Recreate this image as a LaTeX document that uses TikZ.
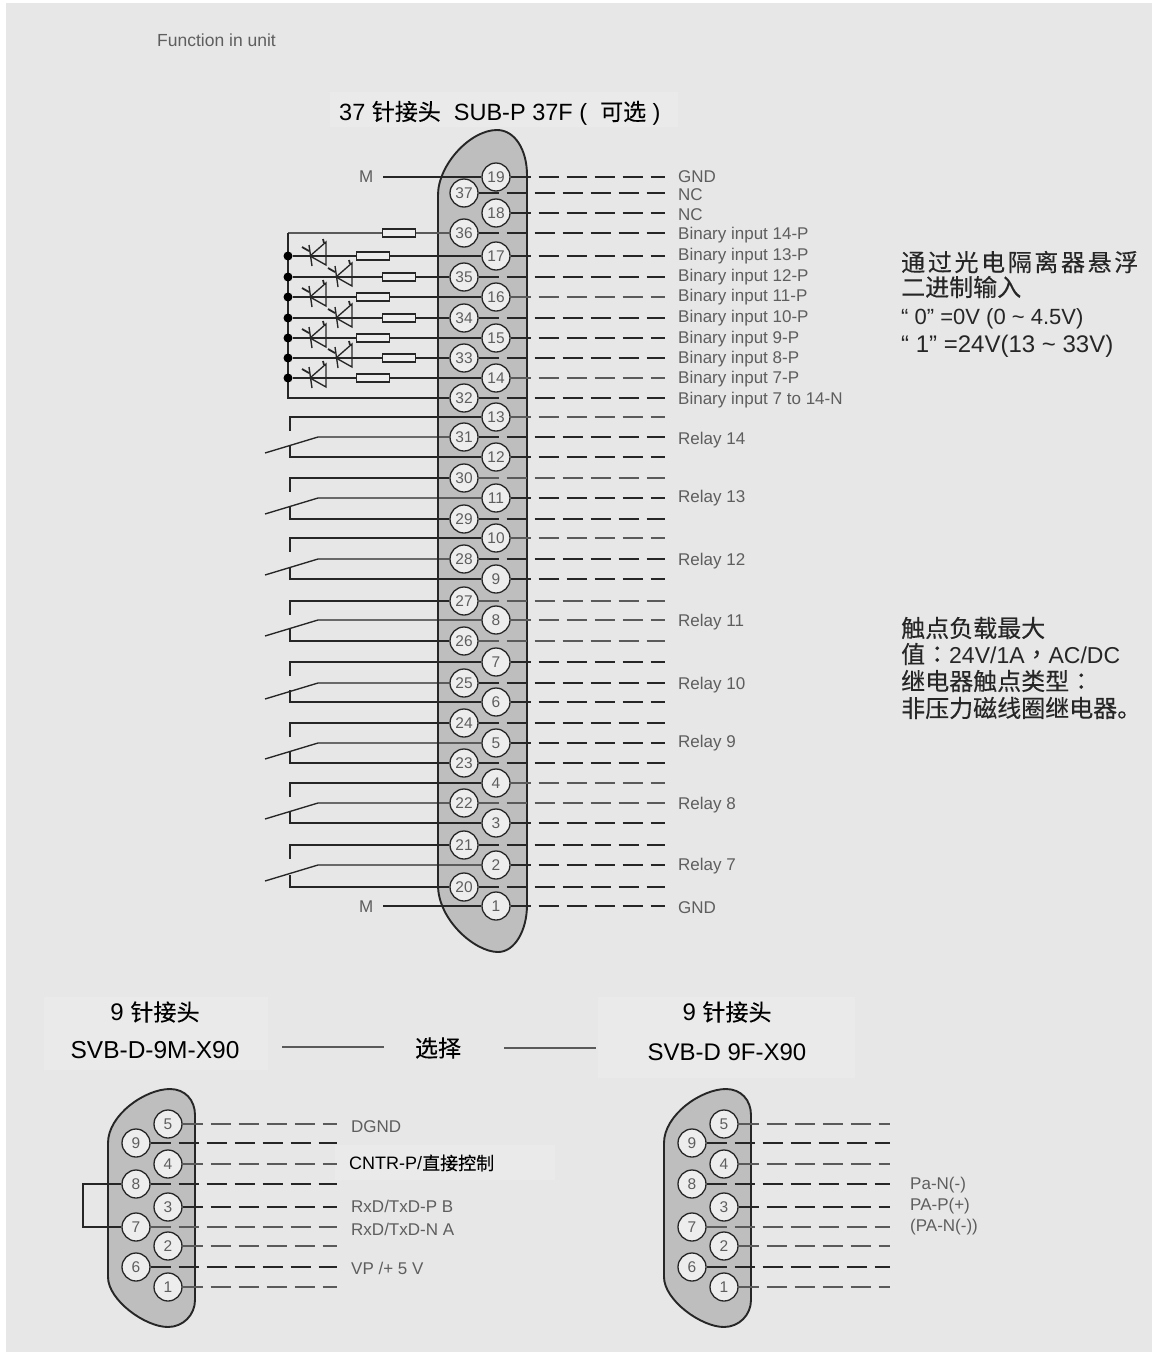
\documentclass[tikz,border=0pt]{standalone}
\usepackage{fontspec}
\setmainfont{Liberation Sans}
\newfontfamily\cjk[FakeBold=0.25]{Noto Sans CJK SC}
\newfontfamily\cjkspaced[LetterSpace=11,FakeBold=0.25]{Noto Sans CJK SC}
\newfontfamily\cjkpunct[FakeBold=0.25]{Noto Sans CJK TC}
\definecolor{pagegray}{HTML}{E7E7E7}
\definecolor{boxgray}{HTML}{EAEAEA}
\definecolor{bodygray}{HTML}{BEBEBE}
\definecolor{pinfill}{HTML}{EDEDED}
\definecolor{inkdark}{HTML}{262626}
\definecolor{inksoft}{HTML}{5A5A5A}
\definecolor{labelgray}{HTML}{5E5E5E}
\newcommand{\fs}[1]{\fontsize{#1}{#1}\selectfont}
\tikzset{
  shell/.style={draw=inkdark,fill=bodygray,line width=1.9pt},
  pinnode/.style={circle,draw=inkdark,fill=pinfill,line width=1.3pt,minimum size=28pt,inner sep=0pt,text=labelgray,font=\fs{15.5}},
  wire/.style={draw=inkdark,line width=1.35pt},
  softwire/.style={draw=inksoft,line width=2pt},
  dashwire/.style={draw=inkdark,line width=1.35pt,dash pattern=on 20pt off 8pt},
  softdash/.style={draw=inksoft,line width=2.3pt,dash pattern=on 20pt off 8pt},
  resistor/.style={rectangle,draw=inkdark,fill=pinfill,line width=1.3pt,minimum width=33pt,minimum height=8pt,inner sep=0pt},
  junction/.style={circle,fill=black,minimum size=9pt,inner sep=0pt},
  graylabel/.style={anchor=west,inner sep=0pt,yshift=-1.5pt,text=labelgray,font=\fs{17}},
  blacklabel/.style={inner sep=0pt,text=black},
  sidetext/.style={anchor=west,inner sep=0pt,text=black!85},
}
\newcommand{\optoled}[2]{%
  \draw[wire] (#1,#2-14) -- (#1,#2+9) -- (#1-16,#2) -- cycle;
  \draw[wire] (#1-17,#2-11) -- (#1-14,#2+10);
  \draw[wire,line width=1.8pt] (#1-24,#2-9) -- (#1-17,#2-5);
  \draw[wire,line width=1.8pt] (#1-3,#2-17) -- (#1-2,#2-13);
}
\newcommand{\ninepin}[3]{%
  \draw[shell] (#2+108,1143) .. controls (#2+108,1115) and (#2+145,1089) .. (#2+170,1089)
     .. controls (#2+185,1089) and (#2+195,1100) .. (#2+195,1115) -- (#2+195,1300)
     .. controls (#2+195,1315) and (#2+183,1327) .. (#2+168,1327)
     .. controls (#2+145,1327) and (#2+108,1300) .. (#2+108,1277) -- cycle;
  \foreach \n/\y in {5/1124,4/1164,3/1207,2/1246,1/1287}{
    \node[pinnode] (#1\n) at (#2+168,\y) {\n};
    \coordinate (#1e\n) at (#3,\y);
  }
  \foreach \n/\y in {9/1143,8/1184,7/1227,6/1267}{
    \node[pinnode] (#1\n) at (#2+136,\y) {\n};
    \coordinate (#1e\n) at (#3,\y);
  }
  \foreach \n in {9,8,6,3}{\draw[dashwire] (#1\n.east) -- (#1e\n);}
  \foreach \n in {5,4,7,2,1}{\draw[softdash] (#1\n.east) -- (#1e\n);}
}
\begin{document}
\begin{tikzpicture}[x=1pt,y=-1pt]
\useasboundingbox (0,0) rectangle (1152,1352);
\fill[white] (0,0) rectangle (1152,1352);
\fill[pagegray] (6,3) rectangle (1152,1352);
% lighter label panels
\fill[boxgray] (330,92) rectangle (678,127);
\fill[boxgray] (44,997) rectangle (268,1070);
\fill[boxgray] (598,997) rectangle (855,1078);
\fill[boxgray] (335,1145) rectangle (555,1180);

\node[graylabel,font=\fs{17.5}] (func) at (157,39) {Function in unit};
\node[blacklabel,anchor=west,font=\fs{23.5}] (title) at (339,113) {37 {\fs{23}\cjk 针接头}\ \ SUB-P 37F (\ \ {\fs{23}\cjk 可选}\ )};

% 37 pin shell
\draw[shell] (438,195) .. controls (438,165) and (470,130) .. (497,130)
   .. controls (515,130) and (527,150) .. (527,175) -- (527,905)
   .. controls (527,930) and (515,952) .. (498,952)
   .. controls (475,952) and (438,920) .. (438,885) -- cycle;

\foreach \n/\y in {19/177,18/213,17/256,16/297,15/338,14/378,13/417,12/457,11/498,10/538,9/579,8/620,7/662,6/702,5/743,4/783,3/823,2/865,1/906}{
  \node[pinnode] (p\n) at (496,\y) {\n};
  \coordinate (e\n) at (665,\y);
}
\foreach \n/\y in {37/193,36/233,35/277,34/318,33/358,32/398,31/437,30/478,29/519,28/559,27/601,26/641,25/683,24/723,23/763,22/803,21/845,20/887}{
  \node[pinnode] (p\n) at (464,\y) {\n};
  \coordinate (e\n) at (665,\y);
}
\foreach \n in {19,37,18,36,17,35,34,15,33,32,31,12,11,9,29,28,7,25,6,24,5,3,21,2,1,20,23}{\draw[dashwire] (p\n.east) -- (e\n);}
\foreach \n in {16,14,13,30,10,27,8,26,4,22}{\draw[softdash] (p\n.east) -- (e\n);}

% right hand labels of the 37 pin connector
\foreach \t/\y in {GND/175,NC/193,NC/213,Binary input 14-P/234,Binary input 13-P/255,Binary input 12-P/276,Binary input 11-P/296,Binary input 10-P/317,Binary input 9-P/338,Binary input 8-P/358,Binary input 7-P/378,Binary input 7 to 14-N/399,Relay 14/439,Relay 13/497,Relay 12/560,Relay 11/621,Relay 10/684,Relay 9/742,Relay 8/804,Relay 7/865,GND/906}{
  \node[graylabel] at (678,\y) {\t};
}

% M lines
\node[graylabel] (m1) at (359,175) {M};
\node[graylabel] (m2) at (359,905) {M};
\coordinate (m1e) at (383,177);
\coordinate (m2e) at (383,906);
\draw[wire] (m1e) -- (p19.west);
\draw[wire] (m2e) -- (p1.west);

% binary inputs
\node[resistor] (r36) at (399,233) {};
\coordinate (railtop) at (288,233);
\coordinate (railbot) at (288,398);
\draw[softwire] (p36.west) -- (r36.east);
\draw[softwire] (r36.west) -- (railtop);
\draw[wire] (railtop) -- (railbot) -- (p32.west);
\foreach \n/\rx/\y/\led in {17/373/256/326,35/399/277/352,16/373/297/326,34/399/318/352,15/373/338/326,33/399/358/352,14/373/378/326}{
  \node[resistor] (r\n) at (\rx,\y) {};
  \node[junction] (j\n) at (288,\y) {};
  \draw[wire] (p\n.west) -- (r\n.east);
  \draw[wire] (r\n.west) -- (j\n);
  \optoled{\led}{\y}
}

% relay contacts
\coordinate (stubx) at (290,0);
\coordinate (kneex) at (318,0);
\foreach \t/\m/\b in {13/31/12,30/11/29,10/28/9,27/8/26,7/25/6,24/5/23,4/22/3,21/2/20}{
  \draw[wire] (p\t.west) -- (stubx |- p\t.west) -- ++(0,14);
  \draw[wire] (p\m.west) -- (kneex |- p\m.west) -- ++(-53,16);
  \draw[wire] (p\b.west) -- (stubx |- p\b.west) -- ++(0,-12);
}

% side notes
\node[sidetext,font=\fs{24}] (n1) at (901,262) {\cjkspaced 通过光电隔离器悬浮};
\node[sidetext,font=\fs{24}] (n2) at (901,287) {\cjk 二进制输入};
\node[sidetext,font=\fs{22}] (n3) at (901,319) {“ 0” =0V (0 \textasciitilde\ 4.5V)};
\node[sidetext,font=\fs{24}] (n4) at (901,346) {“ 1” =24V(13 \textasciitilde\ 33V)};
\node[sidetext,font=\fs{24}] (n5) at (901,628) {\cjk 触点负载最大};
\node[sidetext,font=\fs{23}] (n6) at (901,654) {{\fs{24}\cjk 值}{\fs{24}\cjkpunct ：}24V/1A{\fs{24}\cjkpunct ，}AC/DC};
\node[sidetext,font=\fs{24}] (n7) at (901,681) {\cjk 继电器触点类型{\cjkpunct ：}};
\node[sidetext,font=\fs{24}] (n8) at (901,708) {\cjk 非压力磁线圈继电器。};

% option row
\node[blacklabel,font=\fs{24}] (h1a) at (155,1012) {9 {\fs{23}\cjk 针接头}};
\node[blacklabel,font=\fs{24.5}] (h1b) at (155,1050) {SVB-D-9M-X90};
\node[blacklabel,font=\fs{24}] (h2a) at (727,1012) {9 {\fs{23}\cjk 针接头}};
\node[blacklabel,font=\fs{24}] (h2b) at (727,1052) {SVB-D 9F-X90};
\node[blacklabel,font=\fs{23}] (sel) at (438,1048) {\cjk 选择};
\coordinate (sl1) at (282,1047);
\coordinate (sl2) at (384,1047);
\coordinate (sl3) at (504,1048);
\coordinate (sl4) at (596,1048);
\draw[softwire] (sl1) -- (sl2);
\draw[softwire] (sl3) -- (sl4);

% 9 pin connectors
\ninepin{a}{0}{337}
\ninepin{b}{556}{890}
\coordinate (jx) at (83,0);
\draw[wire] (a8.west) -- (jx |- a8.west) -- (jx |- a7.west) -- (a7.west);

\node[graylabel] (la5) at (351,1125) {DGND};
\node[blacklabel,anchor=west,font=\fs{18}] (la4) at (349,1163) {CNTR-P/{\cjk 直接控制}};
\node[graylabel] (la3) at (351,1205) {RxD/TxD-P B};
\node[graylabel] (la7) at (351,1228) {RxD/TxD-N A};
\node[graylabel] (la6) at (351,1267) {VP /+ 5 V};
\node[graylabel] (lb8) at (910,1184) {Pa-N(-)};
\node[graylabel] (lb3) at (910,1205) {PA-P(+)};
\node[graylabel] (lb7) at (910,1226) {(PA-N(-))};
\end{tikzpicture}
\end{document}
